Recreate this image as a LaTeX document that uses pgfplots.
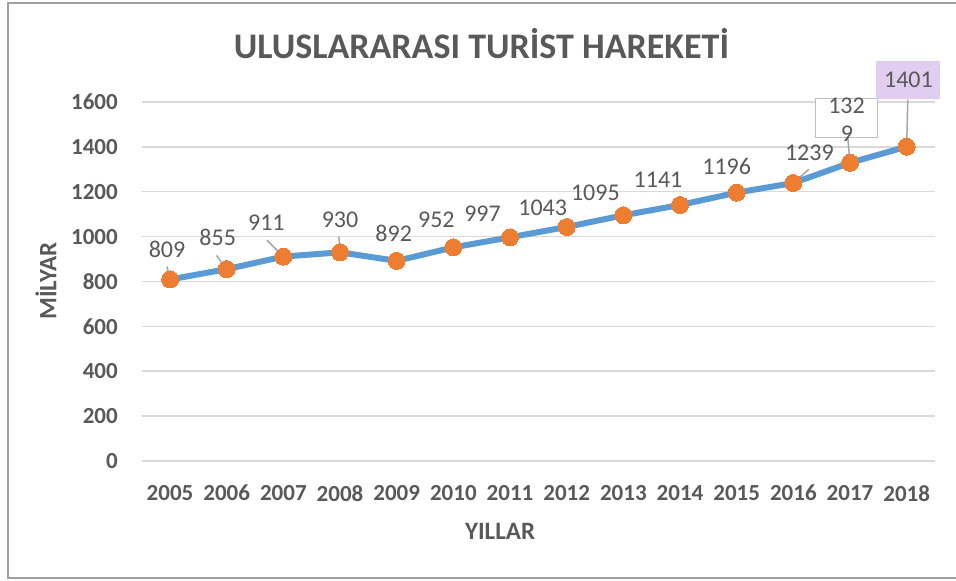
\documentclass[border=0pt]{standalone}
\usepackage{pgfplots}
\pgfplotsset{compat=1.18}
\usepackage{pgfplotstable}
\usepackage{fontspec}
\setmainfont{Carlito}
\definecolor{txt}{HTML}{595959}
\definecolor{gridgray}{HTML}{D9D9D9}
\definecolor{lineblue}{HTML}{5B9BD5}
\definecolor{mkorange}{HTML}{ED7D31}
\definecolor{leader}{HTML}{A6A6A6}
\definecolor{boxgray}{HTML}{BFBFBF}
\definecolor{boxpurple}{HTML}{E1CDF0}
\definecolor{framegray}{HTML}{A0A0A0}

\pgfplotstableread{
x y
0 809
1 855
2 911
3 930
4 892
5 952
6 997
7 1043
8 1095
9 1141
10 1196
11 1239
12 1329
13 1401
}\series

\pgfplotstableread{
x y lab dx dy
0 809 809 -3 30
1 855 855 -9 32
2 911 911 -17 33.5
3 930 930 0 33
4 892 892 -3 27
5 952 952 -17 28
6 997 997 -27.5 24
7 1043 1043 -24 19
8 1095 1095 -28 23
9 1141 1141 -22 25
10 1196 1196 -10 26
11 1239 1239 16 30
}\labels

\pgfplotstableread{
x y u v
0 809 -0.053 58
1 855 -0.18 61
2 911 -0.29 73
3 930 -0.02 69
11 1239 0.275 61
12 1329 -0.04 114
13 1401 0.02 210
}\leaders

\begin{document}
\begin{tikzpicture}
\useasboundingbox (0pt,0pt) rectangle (956pt,581pt);
\draw[framegray, line width=1.5pt] (960pt,3pt) -- (8pt,3pt) -- (8pt,578pt) -- (960pt,578pt);
\begin{axis}[
  at={(141.7pt,120pt)}, anchor=south west,
  scale only axis, width=793.3pt, height=359pt,
  xmin=-0.5, xmax=13.5, ymin=0, ymax=1600,
  clip=false,
  axis line style={draw=none},
  major tick length=0pt,
  ymajorgrids=true, xmajorgrids=false,
  major grid style={draw=gridgray, line width=1.5pt},
  ytick={0,200,...,1600},
  xtick={0,...,13},
  xticklabels={2005,2006,2007,2008,2009,2010,2011,2012,2013,2014,2015,2016,2017,2018},
  /pgf/number format/assume math mode=true,
  /pgf/number format/1000 sep={},
  tick label style={font=\fontsize{23}{27}\selectfont\bfseries, text=txt, inner sep=0pt},
  yticklabel style={anchor=east, xshift=-23.7pt},
  xticklabel style={anchor=north, yshift=-24pt},
  xlabel={YILLAR},
  ylabel={MİLYAR},
  label style={font=\fontsize{25}{30}\selectfont\bfseries, text=txt, inner sep=0pt},
  xlabel style={at={(axis description cs:0.4517,-0.195)}, anchor=center},
  ylabel style={at={(axis description cs:-0.1206,0.501)}, anchor=center, rotate=0},
  title={ULUSLARARASI TURİST HAREKETİ},
  title style={at={(axis description cs:0.4283,1.145)}, anchor=center, inner sep=0pt,
    font=\fontsize{36}{42}\selectfont\bfseries, text=txt},
]
% leader lines
\addplot[leader, line width=1.5pt, mark=none,
  quiver={u=\thisrow{u}, v=\thisrow{v}, every arrow/.append style={-}}]
  table[x=x, y=y] {\leaders};
% main series
\addplot[lineblue, line width=6pt, mark=*, mark size=8.5pt,
  mark options={fill=mkorange, draw=mkorange, line width=0pt}]
  table[x=x, y=y] {\series};
% data labels
\addplot[draw=none, mark=none, nodes near coords, point meta=explicit symbolic,
  visualization depends on={\thisrow{dx}\as\dx},
  visualization depends on={\thisrow{dy}\as\dy},
  every node near coord/.append style={anchor=center, xshift=\dx pt, yshift=\dy pt,
    font=\fontsize{24}{28}\selectfont, text=txt, inner sep=0pt}]
  table[x=x, y=y, meta=lab] {\labels};
% 2017 label box
\addplot[draw=none, mark=none, nodes near coords={},
  every node near coord/.append style={anchor=center, xshift=-3.5pt, yshift=45pt,
    draw=boxgray, fill=white, line width=1.5pt, minimum width=62pt, minimum height=39pt, inner sep=0pt}]
  coordinates {(12,1329)};
\addplot[draw=none, mark=none, nodes near coords={132},
  every node near coord/.append style={anchor=center, xshift=-3.5pt, yshift=57pt,
    font=\fontsize{24}{28}\selectfont, text=txt, inner sep=0pt}]
  coordinates {(12,1329)};
\addplot[draw=none, mark=none, nodes near coords={9},
  every node near coord/.append style={anchor=center, xshift=-3pt, yshift=29pt,
    font=\fontsize{24}{28}\selectfont, text=txt, inner sep=0pt}]
  coordinates {(12,1329)};
% 2018 label box
\addplot[draw=none, mark=none, nodes near coords={1401},
  every node near coord/.append style={anchor=center, xshift=1.8pt, yshift=66.5pt,
    fill=boxpurple, minimum width=64pt, minimum height=38pt, inner sep=0pt,
    font=\fontsize{24}{28}\selectfont, text=txt}]
  coordinates {(13,1401)};
\end{axis}
\end{tikzpicture}
\end{document}
